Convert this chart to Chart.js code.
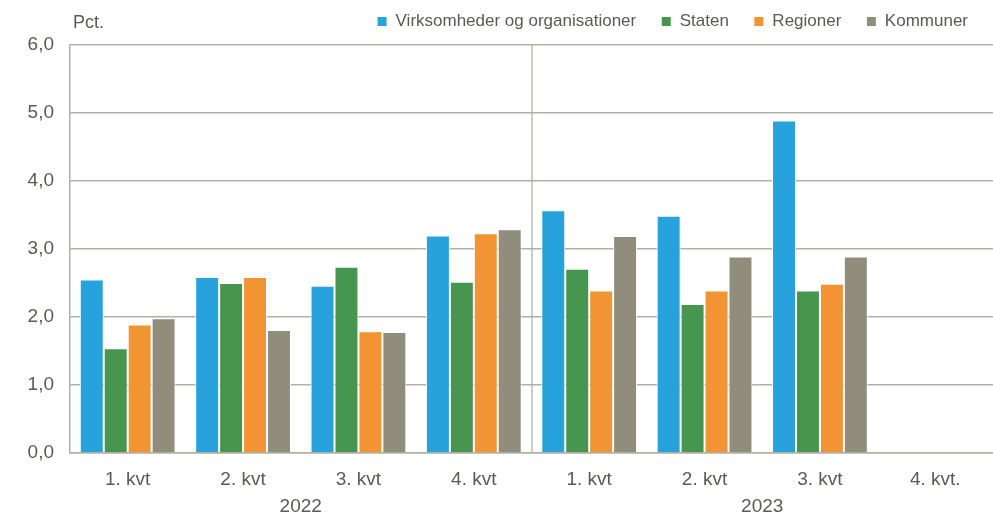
<!DOCTYPE html>
<html>
<head>
<meta charset="utf-8">
<script src="https://cdn.jsdelivr.net/npm/chart.js@4.4.0/dist/chart.umd.min.js"></script>
<style>
  html, body { margin: 0; padding: 0; background: #fff; }
  #wrap { width: 993px; height: 513px; }
</style>
</head>
<body>
<div id="wrap"><canvas id="fravaerChart"></canvas></div>
<script>
const quarters = ['1. kvt', '2. kvt', '3. kvt', '4. kvt', '1. kvt', '2. kvt', '3. kvt', '4. kvt.'];
const years = ['2022', '2023'];
const virksomheder = [2.55, 2.59, 2.46, 3.20, 3.57, 3.49, 4.89, null];
const staten = [1.54, 2.50, 2.74, 2.52, 2.71, 2.19, 2.39, null];
const regioner = [1.89, 2.59, 1.79, 3.23, 2.39, 2.39, 2.49, null];
const kommuner = [1.98, 1.81, 1.78, 3.29, 3.19, 2.89, 2.89, null];

const textColor = '#5b5b52';
const gridColor = '#b3b0a4';
const fontFamily = "'Liberation Sans', Arial, sans-serif";

Chart.defaults.font.family = fontFamily;
Chart.defaults.color = textColor;

// "Pct." label above the y axis
const pctLabel = {
  id: 'pctLabel',
  afterDraw(chart) {
    const c = chart.ctx;
    c.save();
    c.font = '18px ' + fontFamily;
    c.fillStyle = textColor;
    c.textBaseline = 'middle';
    c.textAlign = 'left';
    c.fillText('Pct.', chart.chartArea.left + 3, 23);
    c.restore();
  }
};

// legend height fixed so the plot starts where it does in the original
const legendHeight = {
  id: 'legendHeight',
  beforeInit(chart) {
    const fit = chart.legend.fit;
    chart.legend.fit = function () {
      fit.call(this);
      this.height = 57;
    };
  }
};

const ctx = document.getElementById('fravaerChart').getContext('2d');
const chart = new Chart(ctx, {
  type: 'bar',
  data: {
    labels: quarters,
    datasets: [
      { label: 'Virksomheder og organisationer', data: virksomheder, backgroundColor: '#27a2dc' },
      { label: 'Staten', data: staten, backgroundColor: '#479650' },
      { label: 'Regioner', data: regioner, backgroundColor: '#f29433' },
      { label: 'Kommuner', data: kommuner, backgroundColor: '#908d7d' },
    ].map(d => Object.assign(d, {
      borderColor: '#ffffff',
      borderWidth: 1,
      categoryPercentage: 0.83,
      barPercentage: 1.0,
    })),
  },
  options: {
    responsive: true,
    maintainAspectRatio: false,
    animation: false,
    layout: { padding: { top: -12, right: 0, bottom: 0, left: 0 } },
    plugins: {
      legend: {
        position: 'top',
        align: 'end',
        labels: {
          boxWidth: 10,
          boxHeight: 10,
          padding: 25,
          font: { size: 17 },
          color: textColor,
        },
      },
      tooltip: { enabled: false },
    },
    scales: {
      x: {
        position: 'bottom',
        grid: {
          offset: true,
          drawTicks: false,
          lineWidth: 2,
          color: c => (c.index === 4 ? '#cfcec6' : 'rgba(0,0,0,0)'),
        },
        border: { display: true, color: gridColor, width: 1.5 },
        ticks: { font: { size: 19 }, color: textColor, padding: 15, maxRotation: 0 },
        afterFit: s => { s.height = 40; },
      },
      x2: {
        type: 'category',
        labels: years,
        position: 'bottom',
        offset: true,
        grid: { display: false, drawTicks: false },
        border: { display: false },
        ticks: { font: { size: 19 }, color: textColor, padding: 2, maxRotation: 0 },
        afterFit: s => { s.height = 20; },
      },
      y: {
        min: 0,
        max: 6,
        ticks: {
          stepSize: 1,
          font: { size: 19 },
          color: textColor,
          padding: 16,
          callback: v => v.toFixed(1).replace('.', ','),
        },
        grid: { color: gridColor, lineWidth: 1.5, drawTicks: false },
        border: { display: true, color: gridColor, width: 1.5 },
        afterFit: s => { s.width = 70; },
      },
    },
  },
  plugins: [pctLabel, legendHeight],
});
</script>
</body>
</html>
